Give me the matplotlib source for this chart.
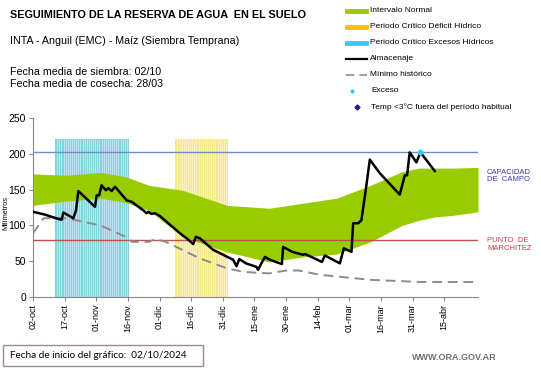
import matplotlib.pyplot as plt
import numpy as np
from matplotlib.lines import Line2D
from matplotlib.patches import Rectangle

plt.rcParams['font.family'] = ['Liberation Sans', 'DejaVu Sans']

# days counted from 02/10/2024
tick_days = [0, 15, 30, 45, 60, 75, 90, 105, 120, 135, 150, 165, 180, 195]
tick_labels = ['02-oct', '17-oct', '01-nov', '16-nov', '01-dic', '16-dic', '31-dic',
               '15-ene', '30-ene', '14-feb', '01-mar', '16-mar', '31-mar', '15-abr']

# intervalo normal
band_days = [0, 16, 32, 44, 55, 71, 92, 112, 128, 144, 160, 175, 183, 191, 199, 211]
band_upper = [172, 170, 174, 168, 156, 149, 128, 124, 131, 138, 156, 175, 180, 180, 180, 181]
band_lower = [128, 134, 138, 132, 121, 84, 63, 49, 56, 60, 77, 100, 107, 112, 114, 119]

# minimo historico
min_days = [0, 5, 16, 32, 44, 47, 55, 58, 63, 79, 92, 100, 112, 120, 126, 136, 160, 183, 211]
min_vals = [89, 110, 110, 100, 84, 77, 77, 81, 77, 54, 40, 35, 33, 37, 37, 31, 24, 21, 21]

# almacenaje
alm_days = [0, 5.7, 12, 13.6, 14.4, 19.1, 20.4, 21.5, 29.4, 30.2, 31.4, 32.5, 34.6, 35.7,
            37.3, 38.9, 44.4, 46.8, 52.3, 53.9, 54.7, 56.2, 57.8, 60.2, 69.7, 72.8, 76,
            77.2, 79.1, 85.4, 94.9, 96.5, 97.8, 101, 106, 106.7, 108.3, 110, 112.3, 118,
            118.6, 123, 128, 129, 137, 138.4, 145.5, 147.4, 151, 151.8, 154.2, 155.7,
            158, 159.7, 164.4, 173.9, 176.3, 177.4, 178.6, 181.8, 183.7, 190.5]
alm_vals = [119, 115, 109, 108, 118, 110, 121, 148, 126, 142, 142, 156, 149, 152,
            148, 154, 135, 133, 121, 117, 119, 116, 117, 113, 89, 82, 74,
            84, 82, 66, 52, 43, 53, 47, 42, 38, 47, 56, 52, 46,
            70, 63, 59, 60, 49, 58, 47, 68, 63, 103, 103, 107,
            154, 192, 173, 143, 170, 170, 202, 188, 202, 176]

exceso_day = [183.4]
exceso_val = [203]

# periodos criticos (dias)
excesos_period = (11, 45)
deficit_period = (68, 92)
period_top = 221

capacidad_campo = 202
punto_marchitez = 80

fig = plt.figure(figsize=(5.41, 3.68), dpi=100)
ax = fig.add_axes([33/541, 1-297/368, (478-33)/541, (297-118)/368])

for (a, b), col in [(excesos_period, '#84d2de'), (deficit_period, '#f4e889')]:
    d = np.arange(a, b + 1)
    ax.bar(d, [period_top]*len(d), width=1.0, color=col, lw=0, zorder=1)
    # thin white gaps between daily bars
    ax.vlines(d[:-1] + 0.5, 0, period_top, color='white', lw=0.4, alpha=0.8, zorder=1.5)

ax.fill_between(band_days, band_lower, band_upper, color='#99cc00', lw=0, zorder=2)
ax.axhline(capacidad_campo, color='#6f8ec4', lw=1, zorder=3)
ax.axhline(punto_marchitez, color='#c0504d', lw=1, zorder=3)
ax.plot(min_days, min_vals, color='#8c8c8c', lw=1.4, dashes=(5, 3), zorder=4)
ax.plot(alm_days, alm_vals, color='black', lw=1.8, zorder=5)
ax.scatter(exceso_day, exceso_val, s=10, color='#33ccee', zorder=6)

ax.set_xlim(0, 211)
ax.set_ylim(0, 250)
ax.set_yticks([0, 50, 100, 150, 200, 250])
ax.set_xticks(tick_days)
ax.set_xticklabels(tick_labels, rotation=90, fontsize=6.5)
ax.tick_params(axis='y', labelsize=7.5, length=3, color='#888888', pad=2)
ax.tick_params(axis='x', length=3, color='#888888', pad=2)
for s in ['top', 'right']:
    ax.spines[s].set_visible(False)
for s in ['left', 'bottom']:
    ax.spines[s].set_color('#888888')

fig.text(6/541, 1-213/368, 'Milímetros', rotation=90, fontsize=5.3, ha='center', va='center')

fig.text(487/541, 1-172/368, 'CAPACIDAD', fontsize=5.5, color='#3a3aa8', va='center')
fig.text(487/541, 1-180/368, 'DE  CAMPO', fontsize=5.5, color='#3a3aa8', va='center')
fig.text(487/541, 1-240/368, 'PUNTO  DE', fontsize=5.5, color='#c83c3c', va='center')
fig.text(487/541, 1-248/368, 'MARCHITEZ', fontsize=5.5, color='#c83c3c', va='center')

fig.text(10/541, 1-15/368, 'SEGUIMIENTO DE LA RESERVA DE AGUA  EN EL SUELO',
         fontsize=7.8, fontweight='bold', va='center')
fig.text(10/541, 1-41/368, 'INTA - Anguil (EMC) - Maíz (Siembra Temprana)', fontsize=7.7, va='center')
fig.text(10/541, 1-72/368, 'Fecha media de siembra: 02/10', fontsize=7.7, va='center')
fig.text(10/541, 1-84/368, 'Fecha media de cosecha: 28/03', fontsize=7.7, va='center')

# leyenda
rows = [11, 27, 43, 59, 75, 91, 107]
names = ['Intervalo Normal', 'Periodo Crítico Déficit Hídrico', 'Periodo Crítico Excesos Hídricos',
         'Almacenaje', 'Mínimo histórico', 'Exceso', 'Temp <3°C fuera del período habitual']
for i, (r, n) in enumerate(zip(rows, names)):
    y = 1 - r/368
    if i < 3:
        c = ['#99cc00', '#ffc000', '#33ccee'][i]
        fig.add_artist(Line2D([347/541, 366/541], [y, y], color=c, lw=3.5))
    elif i == 3:
        fig.add_artist(Line2D([346/541, 367/541], [y, y], color='black', lw=1.6))
    elif i == 4:
        fig.add_artist(Line2D([346/541, 367/541], [y, y], color='#8c8c8c', lw=1.2, dashes=(5, 3)))
    elif i == 5:
        fig.add_artist(Line2D([352/541], [y], marker='o', ms=2, color='#33ccee', lw=0))
    else:
        fig.add_artist(Line2D([357/541], [y], marker='D', ms=2.5, color='#1a1a8c', lw=0))
    tx = 370 if i < 5 else 371
    fig.text(tx/541, y, n, fontsize=6, va='center')

fig.add_artist(Rectangle((3/541, 1-366/368), 200/541, 21/368, transform=fig.transFigure,
                         fill=False, edgecolor='#9a8a8a', lw=1))
fig.text(10/541, 1-356/368, 'Fecha de inicio del gráfico:  02/10/2024', fontsize=7.2,
         family=['Lato', 'DejaVu Sans'], va='center')
fig.text(454/541, 1-358/368, 'WWW.ORA.GOV.AR', fontsize=6.5, fontweight='bold',
         color='#707070', ha='center', va='center')

fig.savefig('out.png', dpi=100)
